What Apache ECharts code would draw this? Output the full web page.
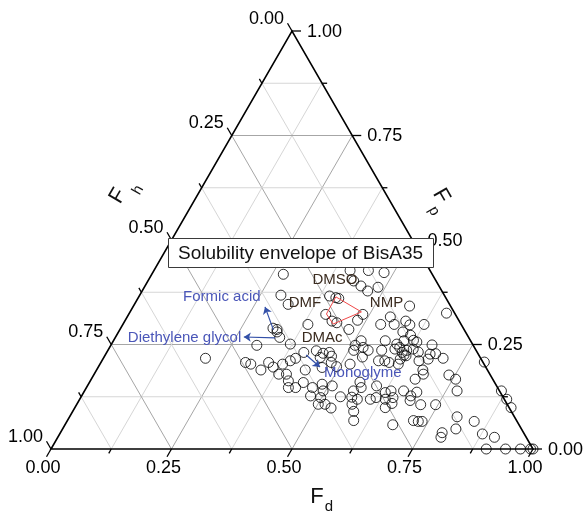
<!DOCTYPE html>
<html><head><meta charset="utf-8">
<script src="https://cdn.jsdelivr.net/npm/echarts@6/dist/echarts.min.js"></script>
<style>html,body{margin:0;padding:0;background:#fff}#c{width:586px;height:514px}</style>
</head><body><div id="c"></div>
<script>
// ---- axis ticks ----
const majorTicks = [0, 0.25, 0.5, 0.75, 1];
const tickLabels = ['0.00', '0.25', '0.50', '0.75', '1.00'];
const minorTicks = [0.125, 0.375, 0.625, 0.875];
const gridLevels = [0.125, 0.25, 0.375, 0.5, 0.625, 0.75, 0.875];

// ---- solvent points (fractional parameters Fd, Fp; Fh = 1 - Fd - Fp) ----
const Fd = [
  .273,.407,.445,.480,.427,.448,.485,.468,.293,.395,
  .410,.417,.319,.573,.409,.430,.442,.482,.486,.546,
  .658,.384,.535,.563,.583,.596,.625,.475,.326,.341,
  .590,.610,.564,.592,.603,.622,.371,.514,.526,.594,
  .613,.632,.666,.303,.212,.433,.462,.449,.409,.510,
  .617,.625,.673,.684,.658,.675,.705,.399,.391,.300,
  .313,.341,.348,.363,.379,.383,.399,.478,.519,.536,
  .574,.598,.433,.465,.677,.672,.737,.756,.795,.411,
  .444,.469,.485,.508,.434,.558,.570,.626,.636,.662,
  .773,.865,.886,.475,.498,.538,.576,.603,.613,.634,
  .648,.683,.501,.515,.532,.571,.644,.653,.714,.745,
  .905,.583,.594,.680,.718,.729,.737,.804,.845,.792,
  .795,.816,.877,.906,.903,.943,.974,.995,1.0,.419,
  .316,.329,.507,.540,.568,.620,.587,.495,.561,.562,
  .600,.691,.687,.683,.631,.646,.602,.620,.619,.471,
  .494,.450
];
const Fp = [
  .418,.427,.427,.422,.402,.390,.387,.378,.368,.366,
  .362,.360,.346,.342,.322,.306,.302,.308,.322,.316,
  .325,.298,.298,.298,.306,.297,.298,.286,.286,.267,
  .280,.272,.259,.251,.259,.260,.251,.259,.243,.239,
  .231,.239,.249,.248,.217,.235,.231,.219,.231,.236,
  .215,.223,.227,.228,.211,.215,.217,.217,.211,.207,
  .203,.189,.207,.196,.203,.179,.179,.207,.203,.220,
  .211,.207,.189,.195,.189,.167,.177,.167,.208,.163,
  .159,.147,.155,.151,.147,.139,.147,.135,.139,.139,
  .139,.139,.119,.127,.123,.125,.119,.119,.123,.119,
  .123,.127,.107,.107,.098,.107,.099,.109,.106,.106,
  .099,.090,.068,.058,.068,.066,.066,.077,.066,.039,
  .028,.048,.036,.028,0,0,0,0,0,.147,
  .289,.280,.248,.236,.236,.236,.211,.139,.160,.124,
  .151,.136,.116,.179,.256,.232,.243,.225,.203,.222,
  .197,.229
];

// ---- envelope (good solvents), drawn as closed red outline ----
const envNames = ['DMSO', 'NMP', 'DMAc', 'DMF', 'DMSO'];
const envFd = [0.409, 0.480, 0.436, 0.410, 0.409];
const envFp = [0.364, 0.328, 0.299, 0.323, 0.364];

// ---- annotation texts (anchor in Fd, Fp) ----
const noteText = ['DMSO', 'DMF', 'NMP', 'DMAc', 'Formic acid', 'Diethylene glycol', 'Monoglyme'];
const noteFd = [0.387, 0.352, 0.521, 0.429, 0.172, 0.144, 0.556];
const noteFp = [0.404, 0.350, 0.350, 0.267, 0.365, 0.266, 0.182];
const noteBlue = [false, false, false, false, true, true, true];

// ---- arrows (from point to label) ----
const arrowFromFd = [0.319, 0.332, 0.417];
const arrowFromFp = [0.285, 0.266, 0.225];
const arrowToFd = [0.274, 0.266, 0.460];
const arrowToFp = [0.340, 0.268, 0.196];

const legendText = 'Solubility envelope of BisA35';

// ternary -> cartesian (x = Fd + Fp/2, y = Fp)
const tx = (d, p) => [d + p / 2, p];
const FONT = 'Liberation Sans, Arial, sans-serif';

function frameItem(params, api) {
  const P = (d, p) => api.coord(tx(d, p));
  const ch = [];
  const line = (a, b, st) => ch.push({ type: 'line', shape: { x1: a[0], y1: a[1], x2: b[0], y2: b[1] }, style: st });
  gridLevels.forEach(v => {
    const major = majorTicks.indexOf(v) >= 0;
    const st = { stroke: major ? '#a6a6a6' : '#d6d6d6', lineWidth: 1 };
    line(P(1 - v, v), P(0, v), st);        // constant Fp
    line(P(v, 0), P(v, 1 - v), st);        // constant Fd
    line(P(1 - v, 0), P(0, 1 - v), st);    // constant Fh
  });
  ch.push({ type: 'polygon', shape: { points: [P(0, 0), P(1, 0), P(0, 1)] },
            style: { fill: 'none', stroke: '#000', lineWidth: 1.6, lineJoin: 'miter' } });
  const tickSt = { stroke: '#000', lineWidth: 1.3 };
  const all = majorTicks.map(v => [v, 9]).concat(minorTicks.map(v => [v, 5]));
  all.forEach(([v, L]) => {
    let a = P(v, 0);                      // bottom, Fd
    line(a, [a[0] - 0.5 * L, a[1] + 0.866 * L], tickSt);
    a = P(0, 1 - v);                      // left, Fh = v
    line(a, [a[0] - 0.5 * L, a[1] - 0.866 * L], tickSt);
    a = P(1 - v, v);                      // right, Fp = v
    line(a, [a[0] + L, a[1]], tickSt);
  });
  const txt = (x, y, s, align) => ch.push({ type: 'text', x, y,
    style: { text: s, fill: '#000', font: '18px ' + FONT, align, verticalAlign: 'middle' } });
  majorTicks.forEach((v, i) => {
    let a = P(v, 0);
    txt(a[0] - 8, a[1] + 19, tickLabels[i], 'center');
    a = P(0, 1 - v);
    txt(a[0] - 8, a[1] - 12, tickLabels[i], 'right');
    a = P(1 - v, v);
    txt(a[0] + 15, a[1] + 1, tickLabels[i], 'left');
  });
  return { type: 'group', children: ch };
}

function noteItem(params, api) {
  const i = api.value(2);
  const c = api.coord([api.value(0), api.value(1)]);
  return { type: 'text', x: c[0], y: c[1],
    style: { text: noteText[i], fill: noteBlue[i] ? '#4a56b8' : '#3a2b1f',
             font: '15px ' + FONT, align: 'center', verticalAlign: 'middle' } };
}

const chart = echarts.init(document.getElementById('c'), null, { renderer: 'canvas' });
chart.setOption({
  animation: false,
  backgroundColor: '#fff',
  grid: { left: 51, top: 31, width: 482, height: 418 },
  xAxis: { type: 'value', min: 0, max: 1, show: false },
  yAxis: { type: 'value', min: 0, max: 1, show: false },
  title: {
    text: legendText, left: 168, top: 238, z: 20,
    padding: [5, 11, 4, 10], borderColor: '#3a3a3a', borderWidth: 1, backgroundColor: '#fff',
    textStyle: { fontSize: 19, fontWeight: 'normal', fontFamily: FONT, color: '#111', lineHeight: 21 }
  },
  graphic: [
    { type: 'text', x: 317, y: 497, z: 20, style: { text: 'F', font: '22px ' + FONT, fill: '#111', align: 'center', verticalAlign: 'middle' } },
    { type: 'text', x: 329, y: 507, z: 20, style: { text: 'd', font: '15px ' + FONT, fill: '#111', align: 'center', verticalAlign: 'middle' } },
    { type: 'text', x: 118, y: 196, rotation: Math.PI / 3, z: 20, style: { text: 'F', font: '22px ' + FONT, fill: '#111', align: 'center', verticalAlign: 'middle' } },
    { type: 'text', x: 138, y: 190, rotation: Math.PI / 3, z: 20, style: { text: 'h', font: '15px ' + FONT, fill: '#111', align: 'center', verticalAlign: 'middle' } },
    { type: 'text', x: 441, y: 196, rotation: -Math.PI / 3, z: 20, style: { text: 'F', font: '22px ' + FONT, fill: '#111', align: 'center', verticalAlign: 'middle' } },
    { type: 'text', x: 434, y: 211, rotation: -Math.PI / 3, z: 20, style: { text: 'p', font: '15px ' + FONT, fill: '#111', align: 'center', verticalAlign: 'middle' } }
  ],
  series: [
    { type: 'custom', z: 1, clip: false, silent: true, data: [[0, 0]], renderItem: frameItem },
    { type: 'scatter', z: 3, symbol: 'circle', symbolSize: 10,
      itemStyle: { color: 'rgba(0,0,0,0)', borderColor: '#000', borderWidth: 1 },
      data: Fd.map((d, i) => tx(d, Fp[i])) },
    { type: 'line', z: 4, symbol: 'none', lineStyle: { color: '#f04848', width: 1 },
      data: envFd.map((d, i) => tx(d, envFp[i])) },
    { type: 'lines', coordinateSystem: 'cartesian2d', z: 5, symbol: ['none', 'arrow'], symbolSize: 7,
      lineStyle: { color: '#3350a8', width: 1.2, opacity: 1 },
      data: arrowFromFd.map((d, i) => ({ coords: [tx(d, arrowFromFp[i]), tx(arrowToFd[i], arrowToFp[i])] })) },
    { type: 'custom', z: 6, clip: false, silent: true,
      data: noteFd.map((d, i) => tx(d, noteFp[i]).concat([i])), renderItem: noteItem }
  ]
});
</script></body></html>
